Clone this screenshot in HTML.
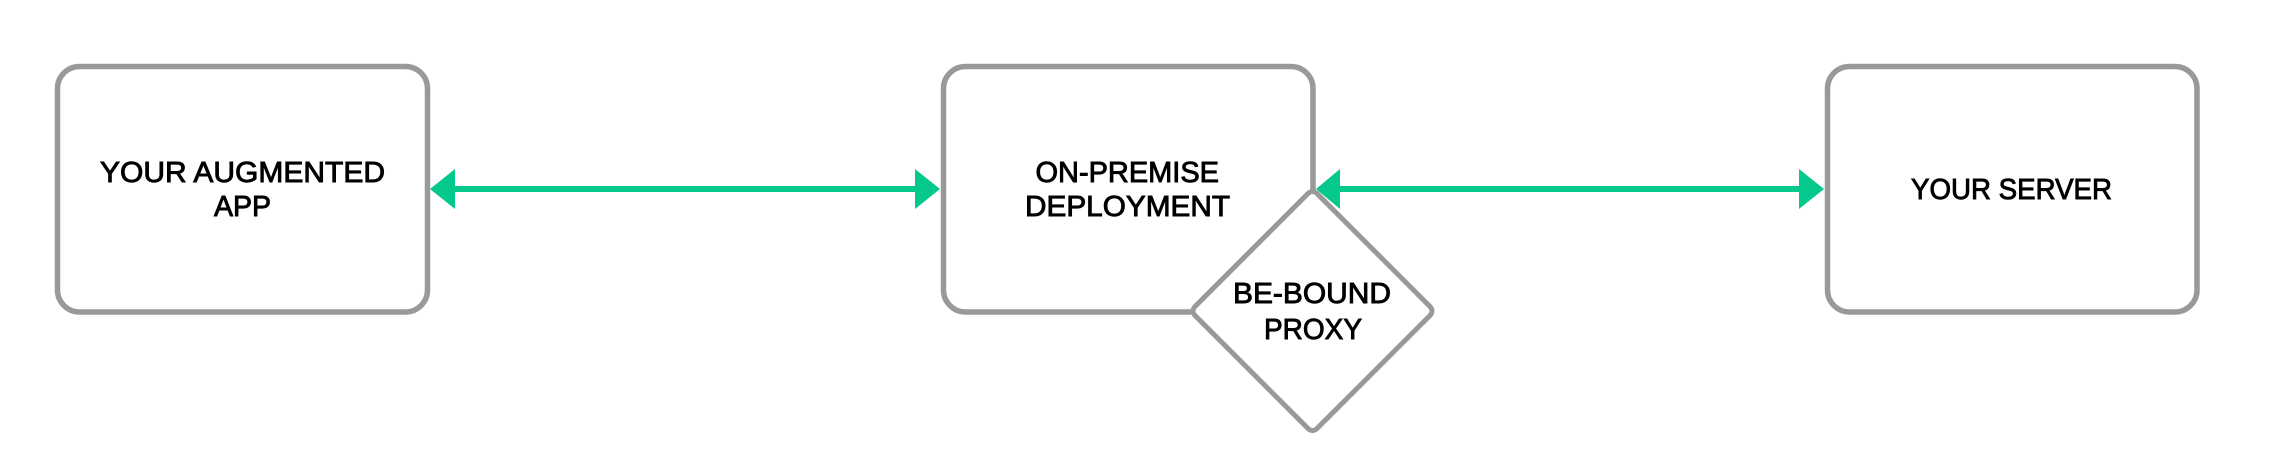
<!DOCTYPE html>
<html>
<head>
<meta charset="utf-8">
<style>
html,body{margin:0;padding:0;background:#fff;width:2277px;height:450px;overflow:hidden}
svg{display:block}
text{font-family:"Liberation Sans",sans-serif;font-size:29px;fill:#000;stroke:#000;stroke-width:.9px}
</style>
</head>
<body>
<svg width="2277" height="450" viewBox="0 0 2277 450" xmlns="http://www.w3.org/2000/svg">
<rect width="2277" height="450" fill="#fff"/>
<g fill="#fff" stroke="#999" stroke-width="5.5">
<rect x="57.5" y="66.5" width="370" height="245.5" rx="22" ry="22"/>
<rect x="943.5" y="66.5" width="369.5" height="245.5" rx="22" ry="22"/>
<rect x="1827.5" y="66.5" width="369.5" height="245.5" rx="22" ry="22"/>
</g>
<g fill="#04c88c">
<rect x="450" y="186" width="470" height="6"/>
<polygon points="430,189 455,169 455,209"/>
<polygon points="940,189 915,169 915,209"/>
<rect x="1335" y="186" width="470" height="6"/>
<polygon points="1316,189 1340,169 1340,209"/>
<polygon points="1824,189 1799,169 1799,209"/>
</g>
<path d="M1306.5 195 Q1312.5 188 1318.5 195 L1428.5 305 Q1435.5 311 1428.5 317 L1318.5 427 Q1312.5 434 1306.5 427 L1196.5 317 Q1189.5 311 1196.5 305 Z" fill="#fff" stroke="#999" stroke-width="5"/>
<text x="100" y="182" textLength="285" lengthAdjust="spacingAndGlyphs">YOUR AUGMENTED</text>
<text x="214" y="216" textLength="57" lengthAdjust="spacingAndGlyphs">APP</text>
<text x="1035.5" y="182" textLength="183.5" lengthAdjust="spacingAndGlyphs">ON-PREMISE</text>
<text x="1025" y="216" textLength="205" lengthAdjust="spacingAndGlyphs">DEPLOYMENT</text>
<text x="1911" y="199" textLength="201" lengthAdjust="spacingAndGlyphs">YOUR SERVER</text>
<text x="1233" y="303" textLength="158" lengthAdjust="spacingAndGlyphs">BE-BOUND</text>
<text x="1264" y="339" textLength="98" lengthAdjust="spacingAndGlyphs">PROXY</text>
</svg>
</body>
</html>
